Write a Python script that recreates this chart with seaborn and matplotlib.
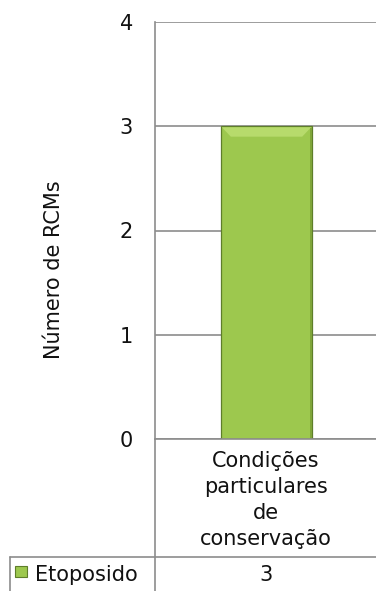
import matplotlib
matplotlib.use("Agg")
import matplotlib.pyplot as plt
from matplotlib.lines import Line2D
from matplotlib.patches import Rectangle, Polygon
import seaborn as sns
import pandas as pd

categories = ["Condições\nparticulares\nde\nconservação"]
series_name = "Etoposido"
values = [3]
y_ticks = [0, 1, 2, 3, 4]

sns.set_theme(style="white")
plt.rcParams["font.family"] = ["DejaVu Sans"]

W, H = 376, 591
fig = plt.figure(figsize=(W / 100, H / 100), dpi=100)

left_px, right_px, top_px, bottom_px = 155, 378, 22, 439
ax = fig.add_axes([left_px / W, 1 - bottom_px / H,
                   (right_px - left_px) / W, (bottom_px - top_px) / H])

df = pd.DataFrame({"cat": categories, "val": values})
bar_color = "#9DC84E"
edge_color = "#5E7E2A"
sns.barplot(data=df, x="cat", y="val", ax=ax, color=bar_color,
            width=0.41, saturation=1, edgecolor=edge_color, linewidth=0.9)

# bevelled look: light band across the top, darker strip down the right side
for p in ax.patches:
    x0, w, h = p.get_x(), p.get_width(), p.get_height()
    inset = 0.045
    ax.add_patch(Polygon([(x0 + 0.005, h - 0.01), (x0 + w - 0.005, h - 0.01),
                          (x0 + w - inset, h - 0.1), (x0 + inset, h - 0.1)],
                         closed=True, facecolor="#B7DB6C", edgecolor="none",
                         zorder=3))
    ax.add_patch(Rectangle((x0 + w - 0.012, 0.0), 0.009, h - 0.02,
                           facecolor="#7FA53A", edgecolor="none", zorder=3))

ax.set_ylim(0, 4)
ax.set_xlim(-0.5, 0.5)
ax.set_yticks(y_ticks)
ax.set_yticklabels([str(t) for t in y_ticks], fontsize=15, color="#111111")
ax.tick_params(axis="y", length=0, pad=16)
ax.set_xticks([])
ax.set_xlabel("")
ax.set_ylabel("")
ax.yaxis.grid(True, color="#8C8C8C", linewidth=1.2)
ax.set_axisbelow(True)
for side in ["top", "right", "bottom"]:
    ax.spines[side].set_visible(False)
ax.spines["left"].set_color("#8C8C8C")
ax.spines["left"].set_linewidth(1.2)

fig.text(54 / W, 1 - 270 / H, "Número de RCMs", rotation=90,
         ha="center", va="center", fontsize=15, color="#111111")

# data table beneath the axes
gray = "#8C8C8C"
def fx(px):
    return px / W
def fy(py):
    return 1 - py / H

fig.add_artist(Line2D([fx(155), fx(155)], [fy(439), fy(591)], color=gray, lw=1.2))
fig.add_artist(Line2D([fx(155), fx(376)], [fy(439), fy(439)], color=gray, lw=1.2))
fig.add_artist(Line2D([fx(10), fx(376)], [fy(557), fy(557)], color=gray, lw=1.2))
fig.add_artist(Line2D([fx(10), fx(10)], [fy(557), fy(591)], color=gray, lw=1.2))

fig.text(fx(266), fy(500), categories[0], ha="center", va="center",
         fontsize=15, linespacing=1.38, color="#111111")
fig.text(fx(266), fy(575), str(values[0]), ha="center", va="center",
         fontsize=15, color="#111111")
fig.add_artist(Rectangle((fx(15), fy(577)), 12 / W, 11 / H,
                         transform=fig.transFigure, facecolor=bar_color,
                         edgecolor=edge_color, linewidth=0.8))
fig.text(fx(35), fy(575), series_name, ha="left", va="center",
         fontsize=15, color="#111111")

fig.savefig("out.png", dpi=100, facecolor="white")
